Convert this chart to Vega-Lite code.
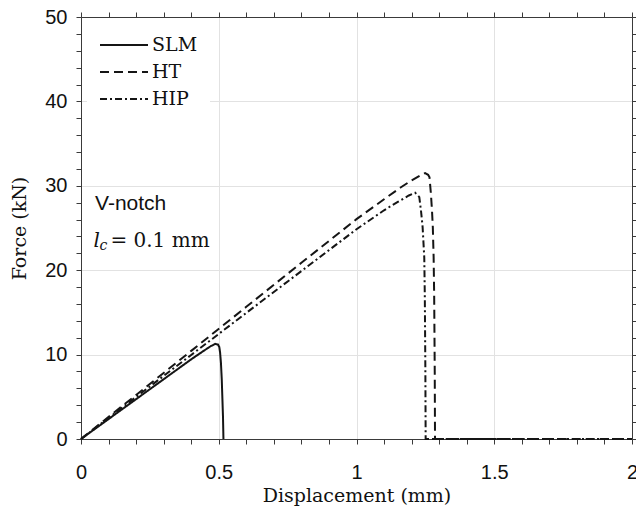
{
  "$schema": "https://vega.github.io/schema/vega-lite/v6.json",
  "width": 551,
  "height": 422,
  "autosize": "none",
  "padding": {"left": 81, "top": 17, "right": 4, "bottom": 74},
  "background": "white",
  "config": {
    "view": {"stroke": null},
    "axis": {
      "labelFont": "Liberation Sans",
      "labelFontSize": 20,
      "labelColor": "#111111",
      "titleFont": "DejaVu Serif",
      "titleFontSize": 19,
      "titleFontWeight": "normal",
      "titleColor": "#111111"
    }
  },
  "datasets": {
    "curves": [
      {"series": "SLM", "d": 0, "f": 0},
      {"series": "SLM", "d": 0.1, "f": 2.36},
      {"series": "SLM", "d": 0.2, "f": 4.72},
      {"series": "SLM", "d": 0.3, "f": 7.08},
      {"series": "SLM", "d": 0.4, "f": 9.44},
      {"series": "SLM", "d": 0.45, "f": 10.55},
      {"series": "SLM", "d": 0.47, "f": 10.98},
      {"series": "SLM", "d": 0.487, "f": 11.27},
      {"series": "SLM", "d": 0.497, "f": 11.2},
      {"series": "SLM", "d": 0.502, "f": 10.9},
      {"series": "SLM", "d": 0.505, "f": 10.2},
      {"series": "SLM", "d": 0.508, "f": 9.0},
      {"series": "SLM", "d": 0.511, "f": 7.0},
      {"series": "SLM", "d": 0.513, "f": 5.0},
      {"series": "SLM", "d": 0.5155, "f": 2.5},
      {"series": "SLM", "d": 0.517, "f": 0},
      {"series": "HT", "d": 0, "f": 0},
      {"series": "HT", "d": 0.2, "f": 5.22},
      {"series": "HT", "d": 0.4, "f": 10.44},
      {"series": "HT", "d": 0.6, "f": 15.66},
      {"series": "HT", "d": 0.8, "f": 20.88},
      {"series": "HT", "d": 1.0, "f": 26.05},
      {"series": "HT", "d": 1.1, "f": 28.4},
      {"series": "HT", "d": 1.16, "f": 29.8},
      {"series": "HT", "d": 1.2, "f": 30.65},
      {"series": "HT", "d": 1.23, "f": 31.2},
      {"series": "HT", "d": 1.249, "f": 31.5},
      {"series": "HT", "d": 1.26, "f": 31.3},
      {"series": "HT", "d": 1.265, "f": 31.0},
      {"series": "HT", "d": 1.27, "f": 29.1},
      {"series": "HT", "d": 1.274, "f": 27.1},
      {"series": "HT", "d": 1.277, "f": 25.1},
      {"series": "HT", "d": 1.28, "f": 21.5},
      {"series": "HT", "d": 1.282, "f": 16.8},
      {"series": "HT", "d": 1.284, "f": 8.0},
      {"series": "HT", "d": 1.285, "f": 0},
      {"series": "HT", "d": 2.0, "f": 0},
      {"series": "HIP", "d": 0, "f": 0},
      {"series": "HIP", "d": 0.2, "f": 4.98},
      {"series": "HIP", "d": 0.4, "f": 9.96},
      {"series": "HIP", "d": 0.6, "f": 14.94},
      {"series": "HIP", "d": 0.8, "f": 19.9},
      {"series": "HIP", "d": 1.0, "f": 24.85},
      {"series": "HIP", "d": 1.1, "f": 27.1},
      {"series": "HIP", "d": 1.15, "f": 28.1},
      {"series": "HIP", "d": 1.19, "f": 28.85},
      {"series": "HIP", "d": 1.213, "f": 29.18},
      {"series": "HIP", "d": 1.228, "f": 28.66},
      {"series": "HIP", "d": 1.234, "f": 27.08},
      {"series": "HIP", "d": 1.24, "f": 25.1},
      {"series": "HIP", "d": 1.246, "f": 21.5},
      {"series": "HIP", "d": 1.248, "f": 16.8},
      {"series": "HIP", "d": 1.25, "f": 8.0},
      {"series": "HIP", "d": 1.251, "f": 0},
      {"series": "HIP", "d": 2.0, "f": 0}
    ],
    "note1": [{"d": 0.051, "f": 27.9}],
    "note2": [{"d": 0.045, "f": 23.6}]
  },
  "layer": [
    {
      "data": {"name": "curves"},
      "mark": {"type": "line", "color": "#151515", "strokeWidth": 2, "strokeCap": "butt"},
      "encoding": {
        "x": {
          "field": "d", "type": "quantitative",
          "scale": {"domain": [0, 2], "nice": false, "zero": false},
          "axis": {
            "orient": "bottom",
            "domain": true, "ticks": true,
            "domainColor": "#3a3a3a", "domainWidth": 1,
            "tickColor": "#3a3a3a", "tickWidth": 1, "tickSize": 5,
            "title": "Displacement (mm)",
            "values": [0, 0.1, 0.2, 0.3, 0.4, 0.5, 0.6, 0.7, 0.8, 0.9, 1, 1.1, 1.2, 1.3, 1.4, 1.5, 1.6, 1.7, 1.8, 1.9, 2],
            "format": "~g",
            "labelExpr": "abs(datum.value*2-round(datum.value*2)) < 1e-6 ? datum.label : ''",
            "labelPadding": 18,
            "labelFlush": false,
            "labelOverlap": false,
            "titlePadding": 4,
            "grid": true,
            "gridColor": {"condition": {"test": "abs(datum.value*2-round(datum.value*2)) < 1e-6", "value": "#e2e2e2"}, "value": "rgba(0,0,0,0)"},
            "gridWidth": 1,
            "encode": {"ticks": {"update": {
              "y": {"signal": "abs(datum.value*2-round(datum.value*2)) < 1e-6 ? -5 : -3"},
              "y2": {"signal": "abs(datum.value*2-round(datum.value*2)) < 1e-6 ? 5 : 3"}
            }}}
          }
        },
        "y": {
          "field": "f", "type": "quantitative",
          "scale": {"domain": [0, 50], "nice": false, "zero": false},
          "axis": {
            "orient": "left",
            "domain": true, "ticks": true,
            "domainColor": "#3a3a3a", "domainWidth": 1,
            "tickColor": "#3a3a3a", "tickWidth": 1, "tickSize": 5,
            "title": "Force (kN)",
            "values": [0, 2, 4, 6, 8, 10, 12, 14, 16, 18, 20, 22, 24, 26, 28, 30, 32, 34, 36, 38, 40, 42, 44, 46, 48, 50],
            "labelExpr": "datum.value % 10 === 0 ? datum.label : ''",
            "labelPadding": 9,
            "labelFlush": false,
            "labelOverlap": false,
            "titlePadding": 15,
            "grid": true,
            "gridColor": {"condition": {"test": "datum.value % 10 === 0", "value": "#e2e2e2"}, "value": "rgba(0,0,0,0)"},
            "gridWidth": 1,
            "encode": {"ticks": {"update": {
              "x": {"signal": "datum.value % 10 === 0 ? -5 : -3"},
              "x2": {"signal": "datum.value % 10 === 0 ? 5 : 3"}
            }}}
          }
        },
        "strokeDash": {
          "field": "series", "type": "nominal",
          "scale": {"domain": ["SLM", "HT", "HIP"], "range": [[1, 0], [9, 5], [7, 3, 2, 3]]},
          "legend": {
            "orient": "none",
            "legendX": 6,
            "legendY": 6,
            "title": null,
            "symbolType": "stroke",
            "symbolSize": 2304,
            "symbolStrokeWidth": 2,
            "symbolStrokeColor": "#151515",
            "clipHeight": 20,
            "labelFont": "DejaVu Serif",
            "labelFontSize": 19,
            "labelColor": "#111111",
            "labelOffset": 3,
            "fillColor": "white",
            "padding": 12,
            "rowPadding": 7
          }
        }
      }
    },
    {
      "data": {"name": "note1"},
      "mark": {"type": "text", "text": "V-notch", "font": "Liberation Sans", "fontSize": 21, "align": "left", "baseline": "middle", "color": "#111111"},
      "encoding": {
        "x": {
          "field": "d", "type": "quantitative",
          "axis": {
            "orient": "top", "title": null, "labels": false, "grid": false,
            "domain": true, "ticks": true,
            "domainColor": "#3a3a3a", "domainWidth": 1,
            "tickColor": "#3a3a3a", "tickWidth": 1, "tickSize": 5,
            "values": [0, 0.1, 0.2, 0.3, 0.4, 0.5, 0.6, 0.7, 0.8, 0.9, 1, 1.1, 1.2, 1.3, 1.4, 1.5, 1.6, 1.7, 1.8, 1.9, 2],
            "encode": {"ticks": {"update": {
              "y": {"signal": "abs(datum.value*2-round(datum.value*2)) < 1e-6 ? -5 : -3"},
              "y2": {"signal": "abs(datum.value*2-round(datum.value*2)) < 1e-6 ? 5 : 3"}
            }}}
          }
        },
        "y": {
          "field": "f", "type": "quantitative",
          "axis": {
            "orient": "right", "title": null, "labels": false, "grid": false,
            "domain": true, "ticks": true,
            "domainColor": "#3a3a3a", "domainWidth": 1,
            "tickColor": "#3a3a3a", "tickWidth": 1, "tickSize": 5,
            "values": [0, 2, 4, 6, 8, 10, 12, 14, 16, 18, 20, 22, 24, 26, 28, 30, 32, 34, 36, 38, 40, 42, 44, 46, 48, 50],
            "encode": {"ticks": {"update": {
              "x": {"signal": "datum.value % 10 === 0 ? -5 : -3"},
              "x2": {"signal": "datum.value % 10 === 0 ? 5 : 3"}
            }}}
          }
        }
      }
    },
    {
      "data": {"name": "note2"},
      "mark": {"type": "text", "text": "l", "font": "DejaVu Serif", "fontStyle": "italic", "fontSize": 20, "align": "left", "baseline": "alphabetic", "dy": 7, "color": "#111111"},
      "encoding": {
        "x": {"field": "d", "type": "quantitative", "axis": null},
        "y": {"field": "f", "type": "quantitative", "axis": null}
      }
    },
    {
      "data": {"name": "note2"},
      "mark": {"type": "text", "text": "c", "font": "DejaVu Serif", "fontStyle": "italic", "fontSize": 14, "align": "left", "baseline": "alphabetic", "dx": 6, "dy": 10, "color": "#111111"},
      "encoding": {
        "x": {"field": "d", "type": "quantitative", "axis": null},
        "y": {"field": "f", "type": "quantitative", "axis": null}
      }
    },
    {
      "data": {"name": "note2"},
      "mark": {"type": "text", "text": "= 0.1 mm", "font": "DejaVu Serif", "fontSize": 20, "align": "left", "baseline": "alphabetic", "dx": 17, "dy": 7, "color": "#111111"},
      "encoding": {
        "x": {"field": "d", "type": "quantitative", "axis": null},
        "y": {"field": "f", "type": "quantitative", "axis": null}
      }
    }
  ],
  "resolve": {"axis": {"x": "independent", "y": "independent"}}
}
